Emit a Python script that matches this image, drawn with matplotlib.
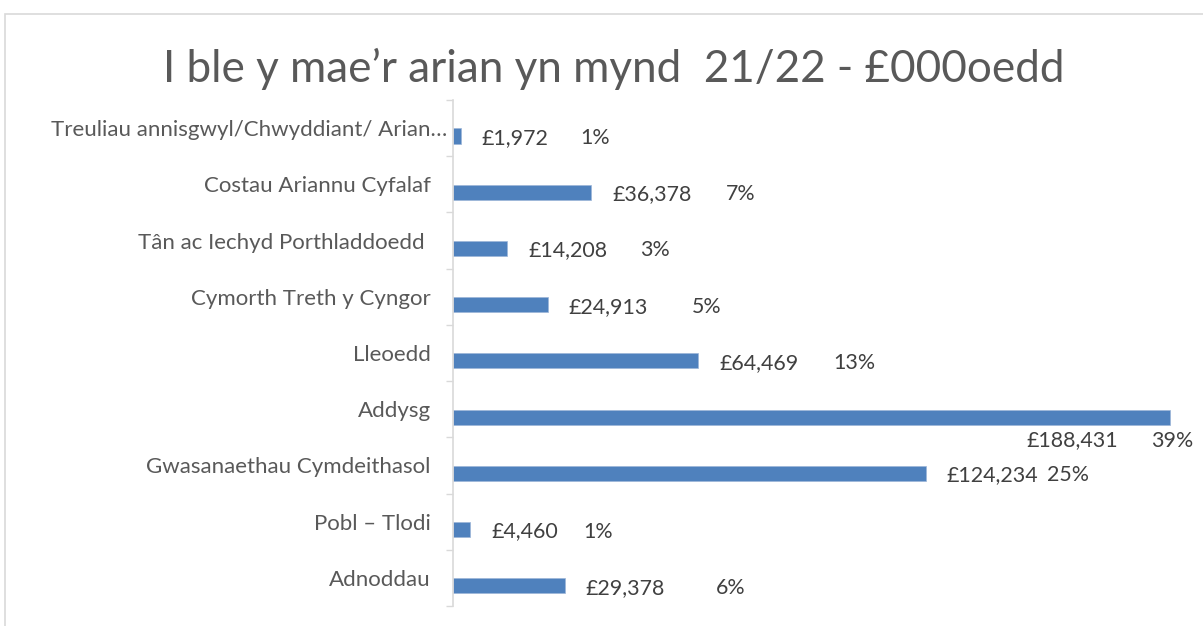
import matplotlib
matplotlib.use("Agg")
import matplotlib.pyplot as plt
from matplotlib.patches import Rectangle
from matplotlib.transforms import ScaledTranslation

categories = [
    "Treuliau annisgwyl/Chwyddiant/ Arian…",
    "Costau Ariannu Cyfalaf",
    "Tân ac Iechyd Porthladdoedd ",
    "Cymorth Treth y Cyngor",
    "Lleoedd",
    "Addysg",
    "Gwasanaethau Cymdeithasol",
    "Pobl – Tlodi",
    "Adnoddau",
]
values = [1972, 36378, 14208, 24913, 64469, 188431, 124234, 4460, 29378]
value_labels = ["£1,972", "£36,378", "£14,208", "£24,913", "£64,469",
                "£188,431", "£124,234", "£4,460", "£29,378"]
pct_labels = ["1%", "7%", "3%", "5%", "13%", "39%", "25%", "1%", "6%"]
title = "I ble y mae’r arian yn mynd  21/22 - £000oedd"

# styling
FONT = "Lato"
BAR_COLOR = "#4F81BD"
TEXT = "#595959"
LABEL_TEXT = "#404040"
AXIS = "#D9D9D9"
pct_gap_px = [120, 134, 133, 144, 135, -19, 121, 113, 151]

W, H = 1203, 626
plt.rcParams["font.family"] = [FONT, "DejaVu Sans"]
fig = plt.figure(figsize=(W / 100, H / 100), dpi=100)

# chart frame
fig.patches.append(Rectangle((5 / W, -0.1), 1.2, 1 - 14 / H + 0.1, transform=fig.transFigure,
                             fill=False, edgecolor="#D9D9D9", linewidth=1.2))

left = 453 / W
ax = fig.add_axes([left, 1 - 606 / H, 1 - left, (606 - 100) / H])
ax.set_facecolor("none")
scale = (1170 - 453) / 188431  # px per unit
ax.set_xlim(0, (W - 453) / scale)

n = len(categories)
pos = list(range(n))
offset = 0.14
ax.barh([p + offset for p in pos], values, height=0.27, color=BAR_COLOR,
        edgecolor="#9DB6D8", linewidth=0.5)
ax.set_ylim(n - 0.5, -0.5)

ax.set_yticks(pos)
ax.set_yticklabels(categories, fontsize=16, color=TEXT)
ax.set_yticks([p - 0.5 for p in pos] + [n - 0.5], minor=True)
ax.tick_params(axis="y", which="major", length=0, pad=16)
ax.tick_params(axis="y", which="minor", length=5, color=AXIS, width=1)
ax.set_xticks([])
for s in ["top", "right", "bottom"]:
    ax.spines[s].set_visible(False)
ax.spines["left"].set_color(AXIS)
ax.spines["left"].set_linewidth(1.2)

# truncated first label sits closer to the axis
lbl0 = ax.get_yticklabels()[0]
lbl0.set_transform(lbl0.get_transform() + ScaledTranslation(16 / 100, 0, fig.dpi_scale_trans))

big = values.index(max(values))
for i, (v, vl, pl, g) in enumerate(zip(values, value_labels, pct_labels, pct_gap_px)):
    y = i + offset
    if i == big:
        ax.annotate(vl, xy=(v, y), xytext=(-52, -23), textcoords="offset pixels",
                    ha="right", va="center", fontsize=15.4, color=LABEL_TEXT)
        ax.annotate(pl, xy=(v, y), xytext=(g, -24), textcoords="offset pixels",
                    ha="left", va="center", fontsize=15.4, color=LABEL_TEXT, annotation_clip=False)
    else:
        ax.annotate(vl, xy=(v, y), xytext=(21, -2), textcoords="offset pixels",
                    ha="left", va="center", fontsize=15.4, color=LABEL_TEXT)
        ax.annotate(pl, xy=(v, y), xytext=(g, -2), textcoords="offset pixels",
                    ha="left", va="center", fontsize=15.4, color=LABEL_TEXT)

fig.text(614 / W, 1 - 69 / H, title, ha="center", va="center", fontsize=31.7, color=TEXT)

fig.savefig("out.png", dpi=100)
